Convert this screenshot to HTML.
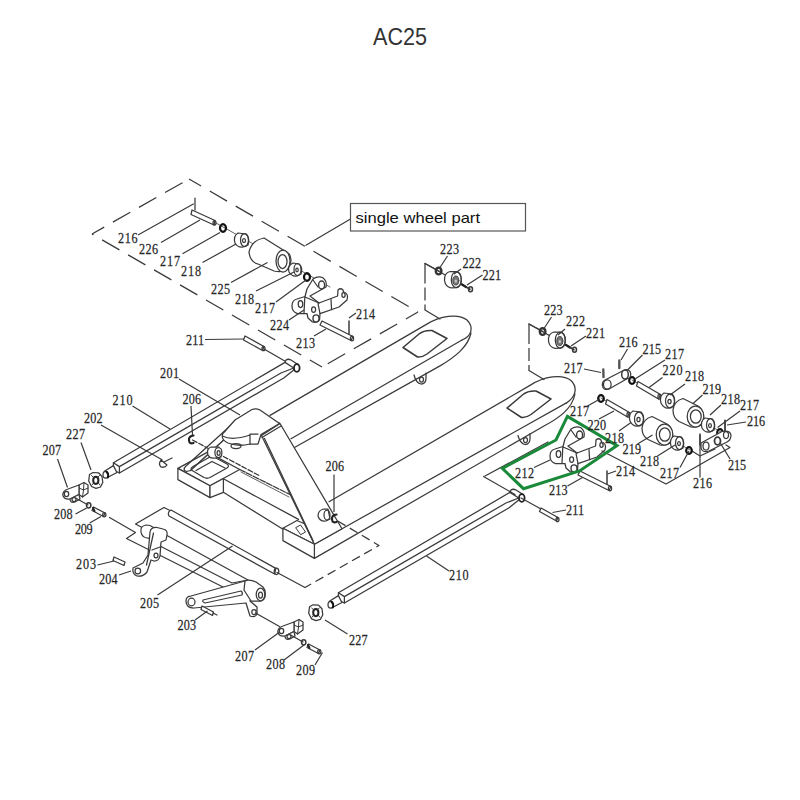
<!DOCTYPE html>
<html><head><meta charset="utf-8"><style>
html,body{margin:0;padding:0;background:#fff;width:800px;height:800px;overflow:hidden}
svg{display:block}
.lb text{font-family:"Liberation Serif",serif;font-size:15.6px;fill:#262626;stroke:#262626;stroke-width:0.25}
.ld{stroke:#3a3a3a;stroke-width:1.2;fill:none}
.p{fill:none}
.pw{fill:#fff}
.d{fill:none}
</style></head><body>
<svg width="800" height="800" viewBox="0 0 800 800">
<text x="373" y="44.8" textLength="54" lengthAdjust="spacingAndGlyphs" font-family="Liberation Sans, sans-serif" font-size="23" fill="#333">AC25</text>
<g stroke="#3a3a3a" stroke-width="1.25" stroke-linejoin="round" stroke-linecap="round">
<g id="parts">
<!-- dashed single wheel outline -->
<path class="d" stroke-linecap="butt" stroke-dasharray="20 10" stroke-dashoffset="6" d="M92 234L189 179M189 179L418 312M418 312L322 367M322 367L92 234"/>
<!-- wheel group brackets -->
<path class="p" d="M439 271L425 263.5"/><path class="d" stroke-linecap="butt" d="M425 263.5V310" stroke-dasharray="20 4 13 4"/><path class="p" d="M425 310L440 319"/>
<g transform="translate(104,60.5)">
<path class="p" d="M439 271L425 263.5"/><path class="d" stroke-linecap="butt" d="M425 263.5V310" stroke-dasharray="20 4 13 4"/><path class="p" d="M425 310L440 319"/>
</g>
<!-- left fork -->
<path class="p" d="M270 415.4L426 324.6C440 316 458 313 467 320C474 327 472 336 462 340"/>
<path class="p" d="M291 438.8L462 340"/>
<path class="p" d="M294 447.7L440 365.9C455 357 468 347 471 333"/>
<path class="p" stroke-width="1.5" d="M403 347.5L419 334Q424 330 432 330.5L447 338.5L427 354Q422 357.5 417.5 357Z"/>
<path class="p" d="M414 375Q416 383 421 384Q426 384 426 378L426 373"/><ellipse class="p" cx="421.5" cy="379.5" rx="2" ry="2.5"/>
<!-- right fork -->
<path class="p" d="M329 501.7L530 385.4C544 376.5 562 373.5 571 380.5C578 387.5 576 397 566 403.4"/>
<path class="p" d="M314.4 544.3L566 403.1"/>
<path class="p" d="M314.4 558.4L544 426C559 418 572 409 575 394"/>
<g transform="translate(104,60.5)">
<path class="p" stroke-width="1.5" d="M403 347.5L419 334Q424 330 432 330.5L447 338.5L427 354Q422 357.5 417.5 357Z"/>
<path class="p" d="M414 375Q416 383 421 384Q426 384 426 378L426 373"/><ellipse class="p" cx="421.5" cy="379.5" rx="2" ry="2.5"/>
</g>
<!-- wheel group parts -->
<g id="wg">
<path class="p" d="M425 263.5L470 289"/>
<ellipse class="p" cx="438.6" cy="271" rx="2.8" ry="3.4" stroke-width="2.4" stroke="#333"/>
<path class="pw" d="M450 271.5Q444 273 444.5 280.5Q445.5 287 451 287.8L456.3 287.7Q461.3 286 461.3 279.7Q461 272.5 456.3 271.7Z"/>
<ellipse class="p" cx="456.3" cy="279.7" rx="5" ry="8"/><ellipse cx="455.8" cy="280.5" rx="3" ry="4.5" fill="#777" stroke="#444" stroke-width="1"/><ellipse cx="455.8" cy="281" rx="1.2" ry="1.6" fill="#ccc" stroke="none"/>
<path class="p" stroke-width="2.4" stroke="#222" d="M462 284.5L466 287"/><path class="p" d="M466 287L470 289.5"/><ellipse class="p" cx="470.5" cy="289.3" rx="2" ry="2.5" stroke-width="1.5"/>
</g>
<use href="#wg" transform="translate(104,60.5)"/>
<!-- single wheel group parts -->
<path class="p" d="M195 198V210"/>
<path class="pw" d="M192 210L215 220.5L214 225L191 214.5Z"/><ellipse class="p" cx="214.5" cy="222.8" rx="1.5" ry="2.3"/>
<path class="p" d="M216 223L330 287" stroke-width="0.8"/>
<ellipse class="p" cx="223" cy="228" rx="3" ry="3.8" stroke-width="2.2" stroke="#111"/>
<path class="pw" d="M238 233Q233 236 235 243Q238 248 243 247L248 245Q250 238 246 234Z"/><ellipse class="p" cx="244.5" cy="240" rx="4" ry="6.5"/><ellipse class="p" cx="244" cy="240.5" rx="1.5" ry="2"/>
<path class="pw" d="M264 238Q252 240 249 252Q250 262 258 264L274 271Q290 274 291 260Q290 253 288 253Z"/>
<ellipse class="pw" cx="283" cy="261" rx="7" ry="11"/><ellipse class="p" cx="282.5" cy="261.5" rx="4.5" ry="7"/>
<path class="pw" d="M293 263Q287 266 289 272Q292 277 297 276L301 274Q303 267 299 264Z"/><ellipse class="p" cx="297.5" cy="269.5" rx="3.5" ry="6"/><ellipse class="p" cx="297" cy="270" rx="1.2" ry="1.8"/>
<ellipse class="p" cx="307" cy="277" rx="3" ry="3.8" stroke-width="2.2" stroke="#111"/>
<g id="br224">
<!-- bracket 224 -->
<path class="pw" d="M297 299L305 296.5L307 289L313 279Q318 275.5 322.5 277.5Q327.5 281 326 287L310 296L319 303L337.6 296L338 290Q340.5 287.5 343 290L343.5 292Q347.5 293 347.5 297L347 300L339 307L320 313.6L319.5 320Q317 323.5 312.5 322L308 318L307 313.5L297.6 313.6Q292 312 292 306Q292 300 297 299Z"/>
<path class="p" d="M305 297L319 303M304.8 297.5L304 313M331 299.5L331.6 309.6M318 303.5L320 313.6M313 280L318 287"/>
<ellipse class="p" cx="300.5" cy="304" rx="2.3" ry="3.5"/><ellipse class="p" cx="313.6" cy="309.6" rx="2" ry="2.8"/><ellipse class="p" cx="316" cy="318.4" rx="3" ry="3.5" stroke-width="1.4"/><ellipse class="p" cx="321.6" cy="285" rx="3" ry="4" stroke-width="1.4"/><ellipse class="p" cx="343.5" cy="295" rx="1.6" ry="2.4" stroke-width="1.3"/>
<!-- pin 213, 214 -->
<path class="pw" d="M322 321L353 336.5L351 340.5L320 325Z"/><ellipse class="p" cx="352" cy="338.5" rx="1.6" ry="2.3"/>
<path class="p" d="M349 321V334" stroke-width="1.5"/>
</g>
<!-- pin 211 (top) -->
<path class="pw" d="M245 336L264 346.5L262.5 350.5L243.5 340Z"/><ellipse class="p" cx="263.5" cy="348.5" rx="1.5" ry="2.2"/>
<path class="p" d="M264 349L296 367.5"/>
<!-- rod 210 right -->
<g id="rodR">
<path class="p" d="M338.4 592.8L510 492.4M344.4 596.6L506 503L518.75 498M344.4 603L508.75 508L520 499"/>
<path class="pw" d="M510 492.4L511 490Q513 488.5 516 490L523 494.5L522 501.5L518.75 498Z"/>
<ellipse class="pw" cx="521.8" cy="498" rx="2.8" ry="3.8" stroke-width="1.8" stroke="#222"/>
<path class="pw" d="M338.4 592.8L344.4 596.6L344.4 603L338.4 600Z"/>
<path class="pw" d="M338.4 595.6L329.4 601.25L332.5 607.5L341.9 602.5Z"/>
<ellipse class="pw" cx="330.6" cy="604.8" rx="2.6" ry="3.4"/>
<path class="p" d="M331.5 601.8Q334 604 332.8 607.5" stroke-width="2" stroke="#111"/>
</g>
<use href="#rodR" transform="translate(-225,-130)"/>
<path class="p" d="M483.5 476.5L515 494.5M521 498L541 509"/>
<path class="pw" d="M541 508L558 517.5L556.5 521L539.5 511.5Z"/><ellipse class="p" cx="557.5" cy="519.5" rx="1.5" ry="2.2"/>

<!-- bracket 212 (copy of 224) -->
<use href="#br224" transform="translate(258,150)"/>
<path class="p" d="M485 476L548 442"/>
<path class="p" d="M602 451L666 484L730 447.5L726 445"/>
<path class="p" d="M692 451L700 456L715 449"/>
<!-- green polygon -->
<path class="g" fill="none" stroke="#1a8a3a" stroke-width="3" stroke-linejoin="miter" d="M567.4 416.4L617 445.6L579.5 470.9L523.5 488.7L502.3 468.4L556 440Z"/>
<!-- right roller group: lower row -->
<g id="rowL">
<path class="p" d="M601 398L690 450" stroke-width="0.8"/>
<ellipse class="p" cx="601" cy="398.5" rx="2.8" ry="3.3" stroke-width="2.2" stroke="#111"/>
<path class="pw" d="M607 399.5L629.5 412.5L627.5 417L605.5 404Z"/><ellipse class="p" cx="628.5" cy="414.8" rx="1.6" ry="2.4"/>
<path class="pw" d="M633 411Q628 414 630 421Q633 427 638 426L643 424Q645 416 641 412Z"/><ellipse class="p" cx="639" cy="419" rx="4.5" ry="7"/><ellipse class="p" cx="638.5" cy="419.5" rx="1.6" ry="2.2"/>
<path class="pw" d="M652 416.5Q643 419 642 428Q642 436 648 439.5L660 445Q673 447 672.5 433Q671 426 667 424Z"/>
<ellipse class="pw" cx="664.5" cy="434.5" rx="8.3" ry="10.5"/><ellipse class="p" cx="664.8" cy="434.5" rx="5.4" ry="6.7"/>
<path class="pw" d="M674 436Q669 439 671 446Q674 451 679 450L683 448Q685 441 681 437Z"/><ellipse class="p" cx="679.5" cy="443" rx="4" ry="6.5"/><ellipse class="p" cx="679" cy="443.5" rx="1.4" ry="2"/>
<ellipse class="p" cx="689" cy="450.5" rx="2.8" ry="3.3" stroke-width="2.2" stroke="#111"/>
</g>
<use href="#rowL" transform="translate(31,-18)"/>
<!-- left link plate 215, pins -->
<path class="pw" d="M605 380L624.4 370Q630 368.5 630.8 374Q630.5 378.5 627.5 378.5L609.4 388.8Q603 391 602.3 385Q602.5 381 605 380Z"/>
<ellipse class="p" cx="607.3" cy="384.4" rx="3.8" ry="4.6"/><ellipse class="p" cx="625" cy="374.5" rx="3.3" ry="4.5" stroke-width="1.5"/>
<path class="p" d="M603.3 369.5L603.5 377" stroke-width="2.4" stroke="#555"/><path class="p" d="M619.3 360.5V368" stroke-width="2.4" stroke="#555"/>
<!-- right link plate 215 -->
<path class="pw" d="M701 443L722 431.5Q730 430 731 435Q731 440 727 442L709 451Q702 453 701 448Z"/>
<ellipse class="p" cx="706" cy="446" rx="3" ry="4"/><ellipse class="p" cx="717.5" cy="441" rx="3" ry="3.8" stroke-width="1.8"/><ellipse class="p" cx="726" cy="435" rx="2.5" ry="3.5"/>
<path class="p" d="M725 420.5V431" stroke-width="1.8"/><path class="p" d="M700 434V445" stroke-width="1.5"/>
<!-- chassis: post -->
<path class="pw" d="M282.9 528.2L297 520.5L305 524L314.4 544.3Z"/>
<path class="p" d="M296 527.5L300.5 525L305.5 532L301 534.5Z" stroke-width="1"/>
<path class="pw" d="M261.5 435.5L280 423.5L342 528.8L314.4 544.3Z"/>
<path class="p" d="M264.5 438.5L313 540.5M261 434.5L279.5 423M262 437.5L281 426"/>
<!-- right base block -->
<path class="pw" d="M282.9 528.2L314.4 544.3L314.4 558.4L282.9 540.6Z"/>
<!-- crossbeam -->
<path class="p" d="M223.4 478.8L298.5 519.4M223.4 492.3L282.6 529"/>
<path class="p" d="M239.7 469.5L290 494.5" stroke-dasharray="6 1.5"/><path class="p" d="M241 472L289 497" stroke-width="0.8"/>
<!-- left base block -->
<path class="pw" d="M177.9 468.4L207.6 452.1L239.7 469.5L210 485.8Z"/>
<path class="pw" d="M177.9 468.4L210 485.8L210 497.6L177.9 479.6Z"/>
<path class="pw" d="M210 485.8L223.4 478.5L223.4 492.3L210 497.6Z"/>
<path class="p" d="M193 471Q189 469 193 466.5L209 457.5Q212 456 215 457.5L227 464Q230 466 227 468L210 477.5Q207 479 204 477.5Z"/>
<path class="p" d="M196 470.5L212 461.5L225 468"/>
<!-- pump linkage bars -->
<path class="p" d="M186 466L234 422.5M190.5 470.5L238 427M186 466Q182 470 186.5 471.5L190.5 470.5"/>
<path class="p" d="M192 468.5L231 433" stroke-width="0.8"/>
<path class="p" d="M192.5 440L260 476" stroke-dasharray="5 2"/>
<path class="pw" d="M211 447Q206 449 208 455Q210 459 215 458L221 457L219 447Z"/><ellipse class="pw" cx="218.4" cy="452.5" rx="3.5" ry="5"/><ellipse class="p" cx="218.6" cy="453" rx="1.5" ry="2.4"/>
<!-- pump cap -->
<path class="pw" d="M235 420L252 409.5Q256 408 260 410L279.5 423.5L261 434.5L258 444L250 444L245 445Q236 446 228 443Q221 440 222.5 434Z"/>
<path class="p" d="M250 434L258 434M250 434L250 444M222.5 436Q232 441 250 435"/>
<ellipse class="p" cx="236" cy="446" rx="5" ry="2.5"/>
<!-- clips 206 -->
<path class="p" stroke-width="2.2" stroke="#222" d="M193.5 435.5Q188.5 436 189 440.5Q189.5 444.5 193.5 443"/>
<path class="pw" d="M324 509Q318 510 318 516Q320 522 326 521L330 519L328 509Z"/><ellipse class="p" cx="327" cy="515" rx="3" ry="5"/>
<path class="p" stroke-width="2.2" stroke="#222" d="M336.5 514.5Q331.5 515 332 519.5Q332.5 523.5 336.5 522"/>
<path class="d" stroke-linecap="butt" d="M337.75 521L379 545.5L305 587.5" stroke-dasharray="9 5"/>
<path class="p" d="M277 572.5L305 587.5"/>
<!-- bolt 202 -->
<path class="p" d="M164 462L172 458"/><path class="pw" d="M161 460Q158 464 161 467Q165 468 167 465Z"/>
<!-- nut 227 / clevis 207 left -->
<g id="nut">
<path class="pw" d="M89.5 474.5L93 472.5L98.5 472.8L102 476.5L102.8 482.5L100.5 487L96 488.3L91.5 486.5L88.7 481Z"/>
<ellipse class="p" cx="95.8" cy="480.3" rx="2.6" ry="3.6" stroke-width="2" stroke="#222"/>
<path class="p" d="M91.5 475.5L94 478M99.5 475.5L97.5 477.5M100 485L98 482.5M92 485L94 482.5" stroke-width="1"/>
</g>
<g id="clev">
<path class="pw" d="M79 485L84 482.5L88 485L88 493L82.5 497L79 494.5Z"/>
<path class="p" d="M84 482.5L83.5 490L82.5 497M79 488L83.5 490L88 488" stroke-width="1"/>
<path class="pw" d="M79 485L68 489Q62 491 63 496Q65 500 70 499L79 494.5Z"/>
<ellipse class="p" cx="66.5" cy="494" rx="2.2" ry="2.6"/>
<path class="pw" d="M70 499Q70 503.5 75 502L80 499L79 494.5Z"/>
<ellipse class="p" cx="74" cy="499.5" rx="2" ry="2"/>
<path class="p" d="M75.6 498L88 505"/>
<ellipse class="p" cx="88.7" cy="505.3" rx="2.2" ry="2.6" stroke-width="1.5"/>
<path class="pw" d="M93.5 507L105 513L103.5 516.5L92 510.5Z"/><ellipse class="p" cx="104.3" cy="514.8" rx="1.6" ry="2.1"/><path class="p" d="M93 508L94.5 511" stroke-width="2" stroke="#222"/>
</g>
<use href="#nut" transform="translate(220,132.3)"/>
<use href="#clev" transform="translate(215,137)"/>
<!-- stepped outline -->
<path class="p" d="M109.5 517.5L135.5 532.5L126.5 538.5L225 588"/>
<path class="p" d="M143 528L135.5 524L164 507.5L170 510.5"/>
<!-- rod 205 -->
<path class="pw" d="M171 510L275.8 568.4L274.6 574L169 516Q167 512 171 510Z"/><ellipse class="p" cx="276.5" cy="571.3" rx="2.3" ry="3.2"/>
<!-- main shaft -->
<path class="pw" d="M157 530L248 580L232 583L160 546Z"/>
<!-- shaft stub + crank 204 -->
<path class="pw" d="M146 525Q140 526 141 532Q142 538 148 538L156 541L158 530L150 525.5Z"/>
<path class="pw" d="M150 532Q151 527 157 527.5L163 529Q168 530 167 535L166 540L161 542L160 556Q159 561 154 561L151 560L147 572Q143 577 137 576Q132 574 133 568L143 563L148 555Z"/>
<path class="p" d="M153.5 533L146.5 565M152 550L160 547"/>
<ellipse class="p" cx="137.8" cy="571" rx="2.8" ry="2.8"/><ellipse class="p" cx="156" cy="555.5" rx="2" ry="2.3"/>
<!-- pin 203 left -->
<path class="pw" d="M114 557L125 562L124 565.5L113 560.5Z"/>
<!-- lever right -->
<path class="pw" d="M186 601Q186 596 191 596L245 581L257 584L250 601L257 607L257 614Q255 618 250 616L246 603L194 608Q186 608 186 601Z"/>
<path class="pw" d="M245 581Q249 579 256 582L263 587Q266 590 265 597Q263 602 258 601L251 601L244 590Z"/>
<ellipse class="pw" cx="260.5" cy="594.5" rx="4.3" ry="6.3"/><ellipse class="p" cx="260.5" cy="595" rx="2" ry="3"/>
<ellipse class="p" cx="191.5" cy="602" rx="3.5" ry="3.8"/><ellipse class="p" cx="254" cy="612" rx="2.2" ry="2.5"/>
<path class="p" d="M203 600L241 591Q243 592 242 595L205 603Q202 602 203 600Z"/>
<path class="p" d="M255.5 613L279.5 626.5"/>
<path class="pw" d="M202 606L213.5 612L212.5 615.5L201 609.5Z"/><path class="p" d="M213 613L217 615"/>
</g>

</g>
<path class="ld" d="M138 235L193.75 203.75 M161 242.5L200 220 M182.5 253.75L220 232.5 M202.5 262.5L236 244 M231 282.5L267.5 262.5 M256 291L294 272 M276 302L306 280 M289 320L304 310 M314 336L326 329 M356 313L349 318 M205 339.5L244 339 M350.5 219L305.5 245.5 M447.5 256L439 269 M461 269L454 274 M482.5 275L467 285 M551.5 317L543 330 M565 329L558 335 M586 336L571 346 M584 369L601 372.5 M627.5 349L621 360 M642.5 355L627.5 370 M665 360L635 379 M662.5 377.5L649 387.5 M685 384L670 395 M702.5 395L692.5 404 M721 405L710 415 M740 411L717.5 427.5 M746 422L727 425 M587.5 406L600 399 M599 419L614 411 M619 431L631 422.5 M637.5 444L652.5 435 M657.5 456L675 445 M680 467.5L689 451 M730 459L720 442.5 M616 471L607.5 474 M534 467.5L550 460 M567.5 486L582.5 477.5 M566 510L552.5 512.5 M179 379L240 415 M132.5 406L170 429 M101 425L162.5 460 M81 442.5L91 470 M57.5 459L67.5 487.5 M75.5 514L86.7 508 M89.7 523L101 516.5 M97.5 565L114 561 M119 575L131 571 M157.5 595L232.5 546 M195 620L207.5 611 M255 650L279 632.5 M284 660L304 645 M315 665L322.5 652.5 M347.5 634L325 620 M449 571L426.5 556 M191 406L192.5 435 M334 474.6L334 512 M700 477.5L700 435"/>
<g class="lb" transform="scale(0.78,1)">
<text x="151.28" y="243.5" textLength="25.00" lengthAdjust="spacing">216</text>
<text x="178.21" y="254" textLength="24.36" lengthAdjust="spacing">226</text>
<text x="205.13" y="266.5" textLength="25.64" lengthAdjust="spacing">217</text>
<text x="232.05" y="276.5" textLength="25.64" lengthAdjust="spacing">218</text>
<text x="270.51" y="294" textLength="24.36" lengthAdjust="spacing">225</text>
<text x="301.28" y="304" textLength="24.36" lengthAdjust="spacing">218</text>
<text x="326.92" y="313" textLength="25.64" lengthAdjust="spacing">217</text>
<text x="346.15" y="330" textLength="24.36" lengthAdjust="spacing">224</text>
<text x="379.49" y="348" textLength="24.36" lengthAdjust="spacing">213</text>
<text x="456.41" y="319" textLength="24.36" lengthAdjust="spacing">214</text>
<text x="238.46" y="345" textLength="23.08" lengthAdjust="spacing">211</text>
<text x="564.10" y="254" textLength="24.36" lengthAdjust="spacing">223</text>
<text x="592.95" y="268" textLength="23.72" lengthAdjust="spacing">222</text>
<text x="618.59" y="280" textLength="23.72" lengthAdjust="spacing">221</text>
<text x="697.44" y="315" textLength="23.72" lengthAdjust="spacing">223</text>
<text x="725.64" y="326.5" textLength="24.36" lengthAdjust="spacing">222</text>
<text x="751.28" y="338.5" textLength="24.36" lengthAdjust="spacing">221</text>
<text x="723.08" y="373" textLength="23.72" lengthAdjust="spacing">217</text>
<text x="793.59" y="347" textLength="23.72" lengthAdjust="spacing">216</text>
<text x="823.72" y="354" textLength="23.72" lengthAdjust="spacing">215</text>
<text x="852.56" y="359" textLength="24.36" lengthAdjust="spacing">217</text>
<text x="849.36" y="375.5" textLength="25.64" lengthAdjust="spacing">220</text>
<text x="878.21" y="381.5" textLength="24.36" lengthAdjust="spacing">218</text>
<text x="900.64" y="394" textLength="23.72" lengthAdjust="spacing">219</text>
<text x="924.36" y="404" textLength="24.36" lengthAdjust="spacing">218</text>
<text x="948.72" y="410" textLength="24.36" lengthAdjust="spacing">217</text>
<text x="957.69" y="426.5" textLength="23.08" lengthAdjust="spacing">216</text>
<text x="730.77" y="416.5" textLength="24.36" lengthAdjust="spacing">217</text>
<text x="753.21" y="430" textLength="23.72" lengthAdjust="spacing">220</text>
<text x="775.64" y="443" textLength="24.36" lengthAdjust="spacing">218</text>
<text x="798.08" y="454" textLength="23.72" lengthAdjust="spacing">219</text>
<text x="820.51" y="466.5" textLength="24.36" lengthAdjust="spacing">218</text>
<text x="846.15" y="478" textLength="24.36" lengthAdjust="spacing">217</text>
<text x="888.46" y="488.5" textLength="24.36" lengthAdjust="spacing">216</text>
<text x="933.33" y="470" textLength="23.08" lengthAdjust="spacing">215</text>
<text x="660.26" y="478" textLength="24.36" lengthAdjust="spacing">212</text>
<text x="789.74" y="476.5" textLength="24.36" lengthAdjust="spacing">214</text>
<text x="703.85" y="495" textLength="23.72" lengthAdjust="spacing">213</text>
<text x="725.64" y="515" textLength="23.08" lengthAdjust="spacing">211</text>
<text x="205.13" y="378" textLength="24.36" lengthAdjust="spacing">201</text>
<text x="144.23" y="405" textLength="25.64" lengthAdjust="spacing">210</text>
<text x="233.97" y="404" textLength="23.72" lengthAdjust="spacing">206</text>
<text x="107.69" y="423" textLength="23.72" lengthAdjust="spacing">202</text>
<text x="84.62" y="439" textLength="24.36" lengthAdjust="spacing">227</text>
<text x="54.49" y="455" textLength="23.72" lengthAdjust="spacing">207</text>
<text x="69.23" y="519" textLength="23.72" lengthAdjust="spacing">208</text>
<text x="96.15" y="534" textLength="22.44" lengthAdjust="spacing">209</text>
<text x="417.31" y="471" textLength="23.72" lengthAdjust="spacing">206</text>
<text x="97.44" y="569" textLength="25.64" lengthAdjust="spacing">203</text>
<text x="126.92" y="584" textLength="23.72" lengthAdjust="spacing">204</text>
<text x="179.49" y="608" textLength="24.36" lengthAdjust="spacing">205</text>
<text x="227.56" y="630" textLength="23.72" lengthAdjust="spacing">203</text>
<text x="301.28" y="661.5" textLength="24.36" lengthAdjust="spacing">207</text>
<text x="341.03" y="669" textLength="24.36" lengthAdjust="spacing">208</text>
<text x="379.49" y="675" textLength="24.36" lengthAdjust="spacing">209</text>
<text x="447.44" y="645" textLength="23.72" lengthAdjust="spacing">227</text>
<text x="575.64" y="580.5" textLength="25.00" lengthAdjust="spacing">210</text>
</g>
<rect x="350.5" y="203.5" width="175" height="27.5" fill="#fff" stroke="#555" stroke-width="1.2"/>
<text x="355.5" y="222.5" textLength="124.5" lengthAdjust="spacingAndGlyphs" font-family="Liberation Sans, sans-serif" font-size="15" fill="#111">single wheel part</text>
</svg>
</body></html>
